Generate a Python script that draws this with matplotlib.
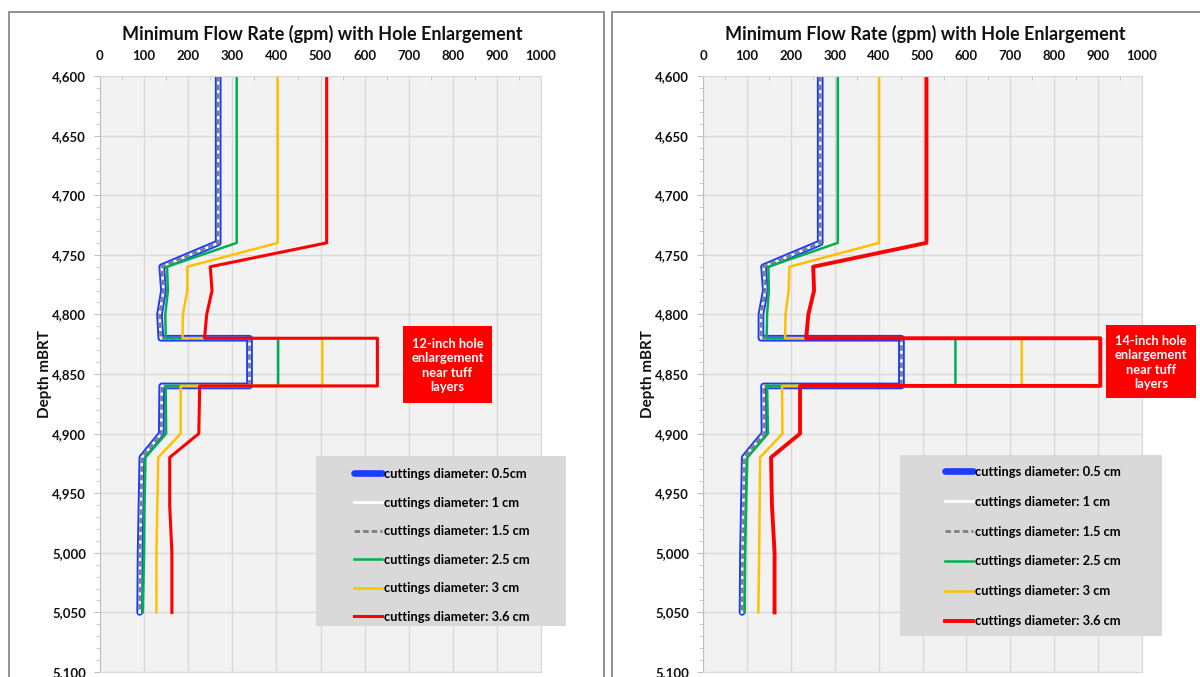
import matplotlib
matplotlib.use("Agg")
import matplotlib.pyplot as plt
from matplotlib.patches import Rectangle
from matplotlib.ticker import MultipleLocator, FuncFormatter

plt.rcParams["font.family"] = ["Lato", "DejaVu Sans"]
plt.rcParams["font.weight"] = "bold"

W, H = 1200, 677

# depth stations (m below rotary table); repeated depths give the step at the enlarged section
depth = [4600, 4740, 4760, 4780, 4800, 4820, 4820, 4860, 4860, 4900, 4920, 4960, 5000, 5050]

# 12-inch enlargement case (gpm)
left_05 = [268, 268, 140, 144, 135, 138, 339, 339, 140, 139, 95, 93, 91, 90]
left_10 = [268, 268, 140, 144, 135, 138, 339, 339, 140, 139, 95, 93, 91, 90]
left_15 = [268, 268, 140, 144, 135, 138, 339, 339, 140, 139, 95, 93, 91, 90]
left_25 = [310, 310, 152, 154, 148, 149, 404, 404, 149, 150, 103, 101, 100, 97]
left_30 = [403, 403, 198, 198, 188, 187, 504, 504, 183, 183, 132, 130, 128, 128]
left_36 = [514, 514, 250, 254, 242, 237, 629, 629, 226, 224, 158, 158, 163, 163]

# 14-inch enlargement case (gpm)
right_05 = [267, 267, 138, 142, 132, 132, 452, 452, 138, 139, 94, 92, 90, 89]
right_10 = [267, 267, 138, 142, 132, 132, 452, 452, 138, 139, 94, 92, 90, 89]
right_15 = [267, 267, 138, 142, 132, 132, 452, 452, 138, 139, 94, 92, 90, 89]
right_25 = [307, 307, 149, 150, 146, 145, 575, 575, 146, 148, 101, 98, 96, 95]
right_30 = [401, 401, 197, 195, 188, 187, 726, 726, 180, 181, 130, 129, 128, 126]
right_36 = [509, 509, 251, 253, 240, 235, 905, 905, 221, 221, 155, 157, 163, 163]

left_labels = ["cuttings diameter: 0.5cm", "cuttings diameter: 1 cm", "cuttings diameter: 1.5 cm",
               "cuttings diameter: 2.5 cm", "cuttings diameter: 3 cm", "cuttings diameter: 3.6 cm"]
right_labels = ["cuttings diameter: 0.5 cm", "cuttings diameter: 1 cm", "cuttings diameter: 1.5 cm",
                "cuttings diameter: 2.5 cm", "cuttings diameter: 3 cm", "cuttings diameter: 3.6 cm"]

title = "Minimum Flow Rate (gpm) with Hole Enlargement"
left_note = "12-inch hole\nenlargement\nnear tuff\nlayers"
right_note = "14-inch hole\nenlargement\nnear tuff\nlayers"


def fx(px):
    return px / W


def fy(py):
    return 1 - py / H


def fig_rect(fig, x0, y0, x1, y1, **kw):
    r = Rectangle((fx(x0), fy(y1)), fx(x1) - fx(x0), fy(y0) - fy(y1), transform=fig.transFigure, **kw)
    fig.add_artist(r)
    return r


def draw_panel(fig, px_left, px_right, series, labels, red_lw, note, note_box, legend_box, legend_xy, legend_gap):
    ax = fig.add_axes([fx(px_left), fy(672), fx(px_right) - fx(px_left), fy(76) - fy(672)])
    ax.set_facecolor("#f2f2f2")
    ax.set_xlim(0, 1000)
    ax.set_ylim(5100, 4600)

    styles = [
        dict(color="#1a3cff", lw=4.8, solid_capstyle="round", solid_joinstyle="round"),
        dict(color="white", lw=2.0),
        dict(color="#7f7f7f", lw=2.0, ls=(0, (2.0, 1.1))),
        dict(color="#00b050", lw=1.8),
        dict(color="#ffc000", lw=1.8),
        dict(color="#ff0000", lw=red_lw),
    ]
    handles = []
    for vals, st, lab in zip(series, styles, labels):
        (ln,) = ax.plot(vals, depth, label=lab, **st)
        handles.append(ln)

    ax.xaxis.tick_top()
    ax.xaxis.set_major_locator(MultipleLocator(100))
    ax.xaxis.set_minor_locator(MultipleLocator(50))
    ax.yaxis.set_major_locator(MultipleLocator(50))
    ax.yaxis.set_minor_locator(MultipleLocator(10))
    ax.yaxis.set_major_formatter(FuncFormatter(lambda v, p: f"{int(v):,}"))
    ax.tick_params(axis="x", which="major", length=0, pad=10, labelsize=9.5, colors="#111111")
    ax.tick_params(axis="x", which="minor", length=3, direction="in", color="#bfbfbf")
    ax.tick_params(axis="y", which="major", length=4, pad=6, labelsize=9.5, color="#bfbfbf", labelcolor="#111111")
    ax.tick_params(axis="y", which="minor", length=3, color="#bfbfbf")
    for t in ax.get_xticklabels() + ax.get_yticklabels():
        t.set_fontweight("bold")
    ax.grid(True, which="major", color="#d9d9d9", lw=1.0)
    ax.set_axisbelow(True)
    for s in ax.spines.values():
        s.set_color("#d9d9d9")
    ax.spines["left"].set_color("#bfbfbf")

    ax.set_ylabel("Depth mBRT", fontsize=11, fontweight="bold", color="#111111")
    ax.yaxis.set_label_coords(-48 / (px_right - px_left), 0.5)

    # enlargement callout
    x0, y0, x1, y1 = note_box
    fig_rect(fig, x0, y0, x1, y1, facecolor="#ff0000", edgecolor="none", zorder=5)
    fig.text(fx((x0 + x1) / 2), fy((y0 + y1) / 2 + 1), note, ha="center", va="center", color="white",
             fontsize=9.3, fontweight="bold", linespacing=1.25, zorder=6)

    # legend on a grey panel
    x0, y0, x1, y1 = legend_box
    fig_rect(fig, x0, y0, x1, y1, facecolor="#d9d9d9", edgecolor="none", zorder=5)
    leg = fig.legend(handles=handles, loc="upper left", bbox_to_anchor=(fx(legend_xy[0]), fy(legend_xy[1])),
                     frameon=False, prop=dict(family="Lato", weight="bold", size=9.3), handlelength=2.2,
                     handletextpad=0.1, labelspacing=legend_gap, borderpad=0, borderaxespad=0)
    leg.set_zorder(6)
    return ax


fig = plt.figure(figsize=(W / 100, H / 100), dpi=100)
fig.patch.set_facecolor("white")

# chart frames
fig_rect(fig, 9, 12, 604, 700, facecolor="white", edgecolor="#7f7f7f", lw=1.2, zorder=0)
fig_rect(fig, 612, 12, 1215, 700, facecolor="white", edgecolor="#7f7f7f", lw=1.2, zorder=0)

draw_panel(fig, 100, 541, [left_05, left_10, left_15, left_25, left_30, left_36], left_labels, 2.2,
           left_note, (403, 326, 492, 403), (316, 456, 566, 626), (354, 468), 1.28)
draw_panel(fig, 703, 1142, [right_05, right_10, right_15, right_25, right_30, right_36], right_labels, 2.8,
           right_note, (1106, 325, 1196, 398), (900, 455, 1162, 636), (945, 466), 1.38)

fig.text(fx(322), fy(34), title, ha="center", va="center", fontsize=13, fontweight="bold", color="#111111")
fig.text(fx(925), fy(34), title, ha="center", va="center", fontsize=13, fontweight="bold", color="#111111")

fig.savefig("out.png", dpi=100)
